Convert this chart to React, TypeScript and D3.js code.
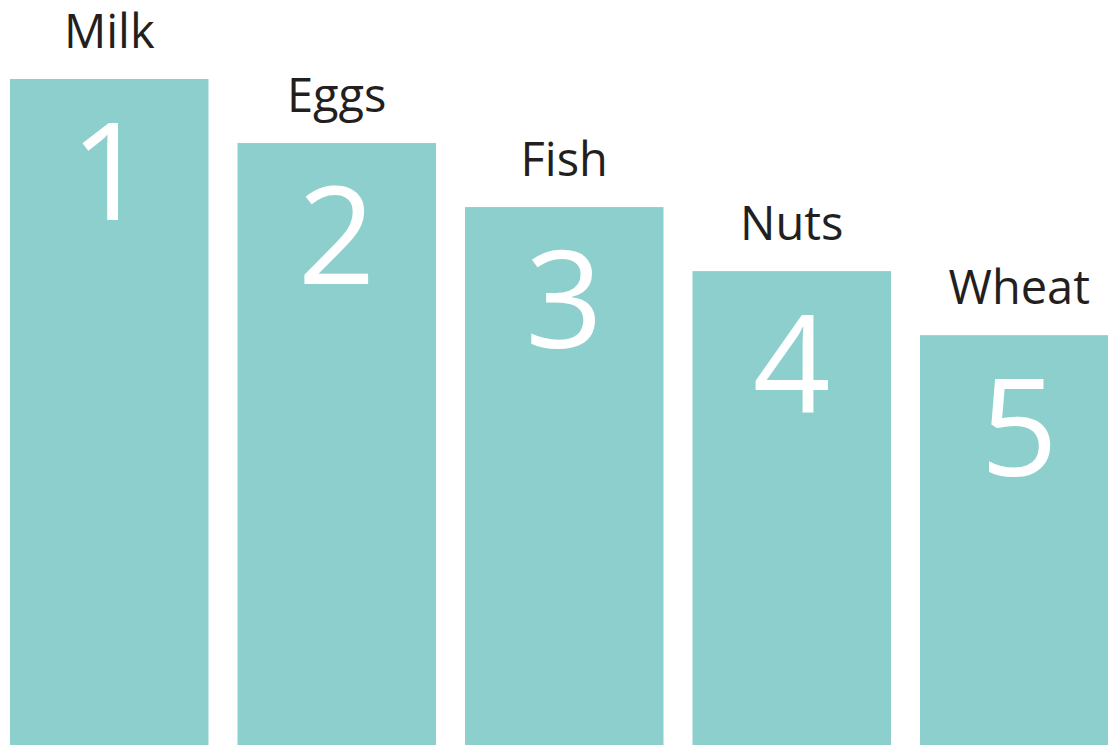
import React, { useEffect, useRef } from 'react';
import * as d3 from 'd3';

const categories = ['Milk', 'Eggs', 'Fish', 'Nuts', 'Wheat'];
const ranks = ['1', '2', '3', '4', '5'];
const values = [10.4, 9.4, 8.4, 7.4, 6.4];

const width = 1108;
const height = 745;

const App = () => {
  const chartRef = useRef(null);

  useEffect(() => {
    d3.select(chartRef.current).select('svg').remove();

    const x = d3.scaleBand()
      .domain(categories)
      .range([10, 1118.5])
      .paddingInner(0.1275)
      .paddingOuter(0);

    const y = d3.scaleLinear()
      .domain([0, 10.4])
      .range([height, 79]);

    const svg = d3.select(chartRef.current)
      .append('svg')
      .attr('width', width)
      .attr('height', height)
      .style('position', 'fixed')
      .style('left', 0)
      .style('top', 0)
      .style('background', '#ffffff');

    const rows = categories.map((c, i) => ({ name: c, rank: ranks[i], value: values[i] }));

    const g = svg.selectAll('g.bar')
      .data(rows)
      .enter()
      .append('g')
      .attr('class', 'bar');

    g.append('rect')
      .attr('x', d => x(d.name))
      .attr('y', d => y(d.value))
      .attr('width', x.bandwidth())
      .attr('height', d => height - y(d.value))
      .attr('fill', '#8ccfcc');

    // category name above each bar
    g.append('text')
      .attr('x', d => x(d.name) + x.bandwidth() / 2)
      .attr('y', d => y(d.value) - 31)
      .attr('text-anchor', 'middle')
      .style('font-family', '"Open Sans", sans-serif')
      .style('font-size', '47px')
      .style('fill', '#231f20')
      .text(d => d.name);

    // big rank number inside the bar
    g.append('text')
      .attr('x', d => x(d.name) + x.bandwidth() / 2)
      .attr('y', d => y(d.value) + 141)
      .attr('text-anchor', 'middle')
      .style('font-family', '"Open Sans", sans-serif')
      .style('font-size', '136px')
      .style('font-weight', 400)
      .style('fill', '#ffffff')
      .text(d => d.rank);
  }, []);

  return (
    <div ref={chartRef}></div>
  );
};

export default App;
